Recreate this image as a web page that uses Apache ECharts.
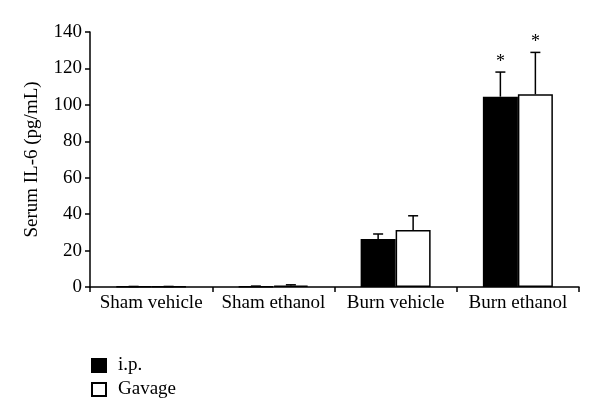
<!DOCTYPE html>
<html>
<head>
<meta charset="utf-8">
<script src="https://cdn.jsdelivr.net/npm/echarts@6/dist/echarts.min.js"></script>
<style>
  html, body { margin: 0; padding: 0; background: #fff; }
  #chart { width: 600px; height: 419px; }
</style>
</head>
<body>
<div id="chart"></div>
<script>
const categories = ["Sham vehicle", "Sham ethanol", "Burn vehicle", "Burn ethanol"];
const ipValues = [0.2, 0.3, 26.3, 104.5];
const ipErrors = [0.1, 0.2, 2.8, 13.5];
const gavageValues = [0.2, 0.8, 31.3, 105.8];
const gavageErrors = [0.1, 0.4, 7.8, 23.0];
const ipStars = [false, false, false, true];
const gavageStars = [false, false, false, true];
const yTicks = [0, 20, 40, 60, 80, 100, 120, 140];

const FONT = "Liberation Serif";
const FS = 19;
const BAR_W = 35;

function errorSeries(values, errors, stars, offset) {
  return {
    type: "custom",
    silent: true,
    z: 5,
    data: values.map((v, i) => [i, v, v + errors[i], stars[i] ? 1 : 0]),
    renderItem: (params, api) => {
      const base = api.coord([api.value(0), api.value(1)]);
      const top = api.coord([api.value(0), api.value(2)]);
      const x = base[0] + offset;
      const children = [
        { type: "line", shape: { x1: x, y1: base[1], x2: x, y2: top[1] }, style: { stroke: "#000", lineWidth: 1.5 } },
        { type: "line", shape: { x1: x - 5, y1: top[1], x2: x + 5, y2: top[1] }, style: { stroke: "#000", lineWidth: 1.5 } },
      ];
      if (api.value(3)) {
        children.push({
          type: "text",
          style: { text: "*", x: x, y: top[1] - 1, align: "center", verticalAlign: "bottom", font: "18px " + FONT, fill: "#000" },
        });
      }
      return { type: "group", children };
    },
  };
}

const chart = echarts.init(document.getElementById("chart"));
chart.setOption({
  animation: false,
  backgroundColor: "#fff",
  grid: { left: 90, right: 21, top: 32, bottom: 132 },
  legend: {
    orient: "vertical",
    left: 86,
    top: 351,
    icon: "rect",
    itemWidth: 14,
    itemHeight: 13,
    itemGap: 5,
    textStyle: { fontFamily: FONT, fontSize: FS, color: "#000", padding: [0, 0, 0, 7] },
    data: ["i.p.", "Gavage"],
  },
  xAxis: {
    type: "category",
    data: categories,
    axisLine: { lineStyle: { color: "#000", width: 1.5 } },
    axisTick: { show: true, alignWithLabel: false, length: 5, lineStyle: { color: "#000", width: 1.5 } },
    axisLabel: { interval: 0, hideOverlap: false, fontFamily: FONT, fontSize: FS, color: "#000", margin: 7 },
  },
  yAxis: {
    type: "value",
    min: 0,
    max: yTicks[yTicks.length - 1],
    interval: 20,
    name: "Serum IL-6 (pg/mL)",
    nameLocation: "middle",
    nameGap: 48,
    nameTextStyle: { fontFamily: FONT, fontSize: FS, color: "#000" },
    splitLine: { show: false },
    axisLine: { show: true, lineStyle: { color: "#000", width: 1.5 } },
    axisTick: { show: true, length: 5, lineStyle: { color: "#000", width: 1.5 } },
    axisLabel: { fontFamily: FONT, fontSize: FS, color: "#000", margin: 8 },
  },
  series: [
    {
      name: "i.p.",
      type: "bar",
      barWidth: BAR_W,
      barGap: "0%",
      data: ipValues,
      itemStyle: { color: "#000", borderColor: "#000", borderWidth: 1.5 },
    },
    {
      name: "Gavage",
      type: "bar",
      barWidth: BAR_W,
      barGap: "0%",
      data: gavageValues,
      itemStyle: { color: "#fff", borderColor: "#000", borderWidth: 1.5 },
    },
    errorSeries(ipValues, ipErrors, ipStars, -BAR_W / 2),
    errorSeries(gavageValues, gavageErrors, gavageStars, BAR_W / 2),
  ],
});
</script>
</body>
</html>
